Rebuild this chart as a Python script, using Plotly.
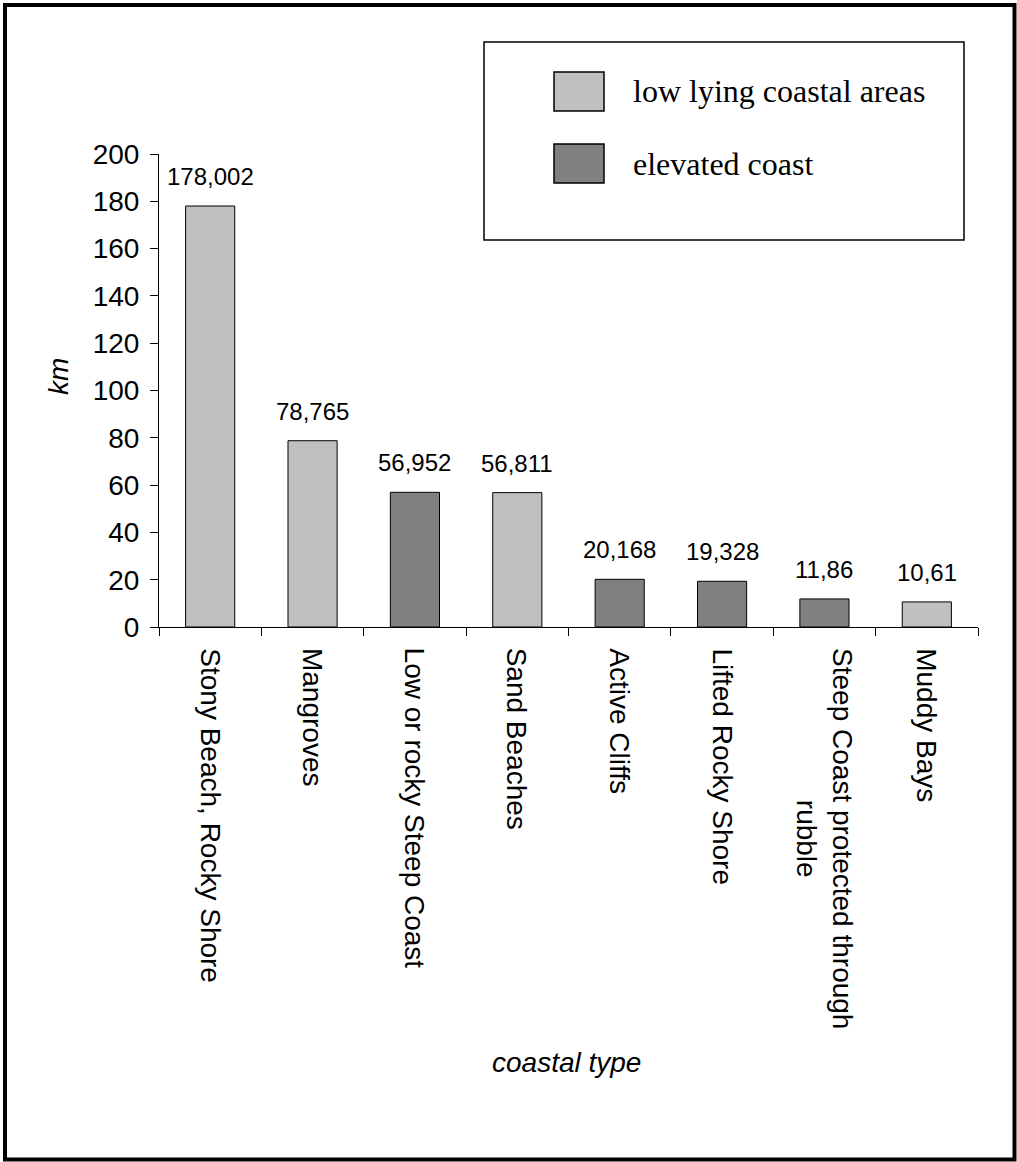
import plotly.graph_objects as go

# Coastline length per coastal type (km)
categories = [
    "Stony Beach, Rocky Shore",
    "Mangroves",
    "Low or rocky Steep Coast",
    "Sand Beaches",
    "Active Cliffs",
    "Lifted Rocky Shore",
    "Steep Coast protected through<br>rubble",
    "Muddy Bays",
]
lengths_km = [178.002, 78.765, 56.952, 56.811, 20.168, 19.328, 11.86, 10.61]
coast_group = ["low", "low", "elevated", "low", "elevated", "elevated", "elevated", "low"]

group_names = {"low": "low lying coastal areas", "elevated": "elevated coast"}
group_colors = {"low": "#C0C0C0", "elevated": "#808080"}

y_ticks = list(range(0, 201, 20))

# Figure geometry (pixels)
FIG_W, FIG_H = 1017, 1162
L, R, T, B = 159, 978, 154, 627
PW, PH = R - L, B - T


def px_x(px):
    return (px - L) / PW


def px_y(py):
    return (B - py) / PH


SANS = "Liberation Sans, Arial, sans-serif"
SERIF = "Liberation Serif, Times New Roman, serif"

fig = go.Figure()
fig.add_trace(
    go.Bar(
        x=categories,
        y=lengths_km,
        marker=dict(
            color=[group_colors[g] for g in coast_group],
            line=dict(color="black", width=1),
        ),
        width=0.48,
        showlegend=False,
        hoverinfo="x+y",
    )
)

# value labels (decimal comma)
for cat, val in zip(categories, lengths_km):
    fig.add_annotation(
        x=cat, y=val, xref="x", yref="y",
        text=str(val).replace(".", ","),
        showarrow=False, yanchor="bottom", yshift=14,
        font=dict(family=SANS, size=24, color="black"),
    )

# vertical category labels, multi-line text centred
for cat in categories:
    fig.add_annotation(
        x=cat, y=px_y(646), xref="x", yref="paper",
        text=cat, textangle=90, showarrow=False,
        xanchor="center", yanchor="top", align="center",
        font=dict(family=SANS, size=28, color="black"),
    )

# axis titles
fig.add_annotation(
    x=px_x(58), y=px_y(377), xref="paper", yref="paper",
    text="<i>km</i>", textangle=-90, showarrow=False,
    xanchor="center", yanchor="middle",
    font=dict(family=SANS, size=28, color="black"),
)
fig.add_annotation(
    x=px_x(566), y=px_y(1062), xref="paper", yref="paper",
    text="<i>coastal type</i>", showarrow=False,
    xanchor="center", yanchor="middle",
    font=dict(family=SANS, size=28, color="black"),
)

shapes = []
# outer frame
shapes.append(dict(
    type="rect", xref="paper", yref="paper",
    x0=px_x(5), x1=px_x(1014.5), y0=px_y(1159.5), y1=px_y(5),
    line=dict(color="black", width=4), fillcolor="rgba(0,0,0,0)", layer="above",
))
# legend box
shapes.append(dict(
    type="rect", xref="paper", yref="paper",
    x0=px_x(484), x1=px_x(964), y0=px_y(240), y1=px_y(42),
    line=dict(color="black", width=1.5), fillcolor="white",
))
legend_rows = [("low", 72, 111), ("elevated", 144, 183)]
for key, top, bot in legend_rows:
    shapes.append(dict(
        type="rect", xref="paper", yref="paper",
        x0=px_x(554), x1=px_x(604), y0=px_y(bot), y1=px_y(top),
        line=dict(color="black", width=1.5), fillcolor=group_colors[key],
    ))
    fig.add_annotation(
        x=px_x(631), y=px_y((top + bot) / 2), xref="paper", yref="paper",
        text=group_names[key], showarrow=False, xanchor="left", yanchor="middle",
        font=dict(family=SERIF, size=32, color="black"),
    )

fig.update_layout(
    width=FIG_W, height=FIG_H,
    margin=dict(l=L, r=FIG_W - R, t=T, b=FIG_H - B, pad=0),
    paper_bgcolor="white", plot_bgcolor="white",
    shapes=shapes,
    showlegend=False,
    bargap=0.52,
    xaxis=dict(
        type="category",
        tickson="boundaries",
        ticks="outside", ticklen=8, tickwidth=1, tickcolor="black",
        showline=True, linecolor="black", linewidth=1,
        showgrid=False, zeroline=False,
        showticklabels=False,
        range=[-0.5, len(categories) - 0.5],
    ),
    yaxis=dict(
        range=[0, 200],
        tickvals=y_ticks,
        ticks="outside", ticklen=8, tickwidth=1, tickcolor="black",
        showline=True, linecolor="black", linewidth=1,
        showgrid=False, zeroline=False,
        ticklabelstandoff=5,
        tickfont=dict(family=SANS, size=28, color="black"),
    ),
)

fig.write_html("out.html")
